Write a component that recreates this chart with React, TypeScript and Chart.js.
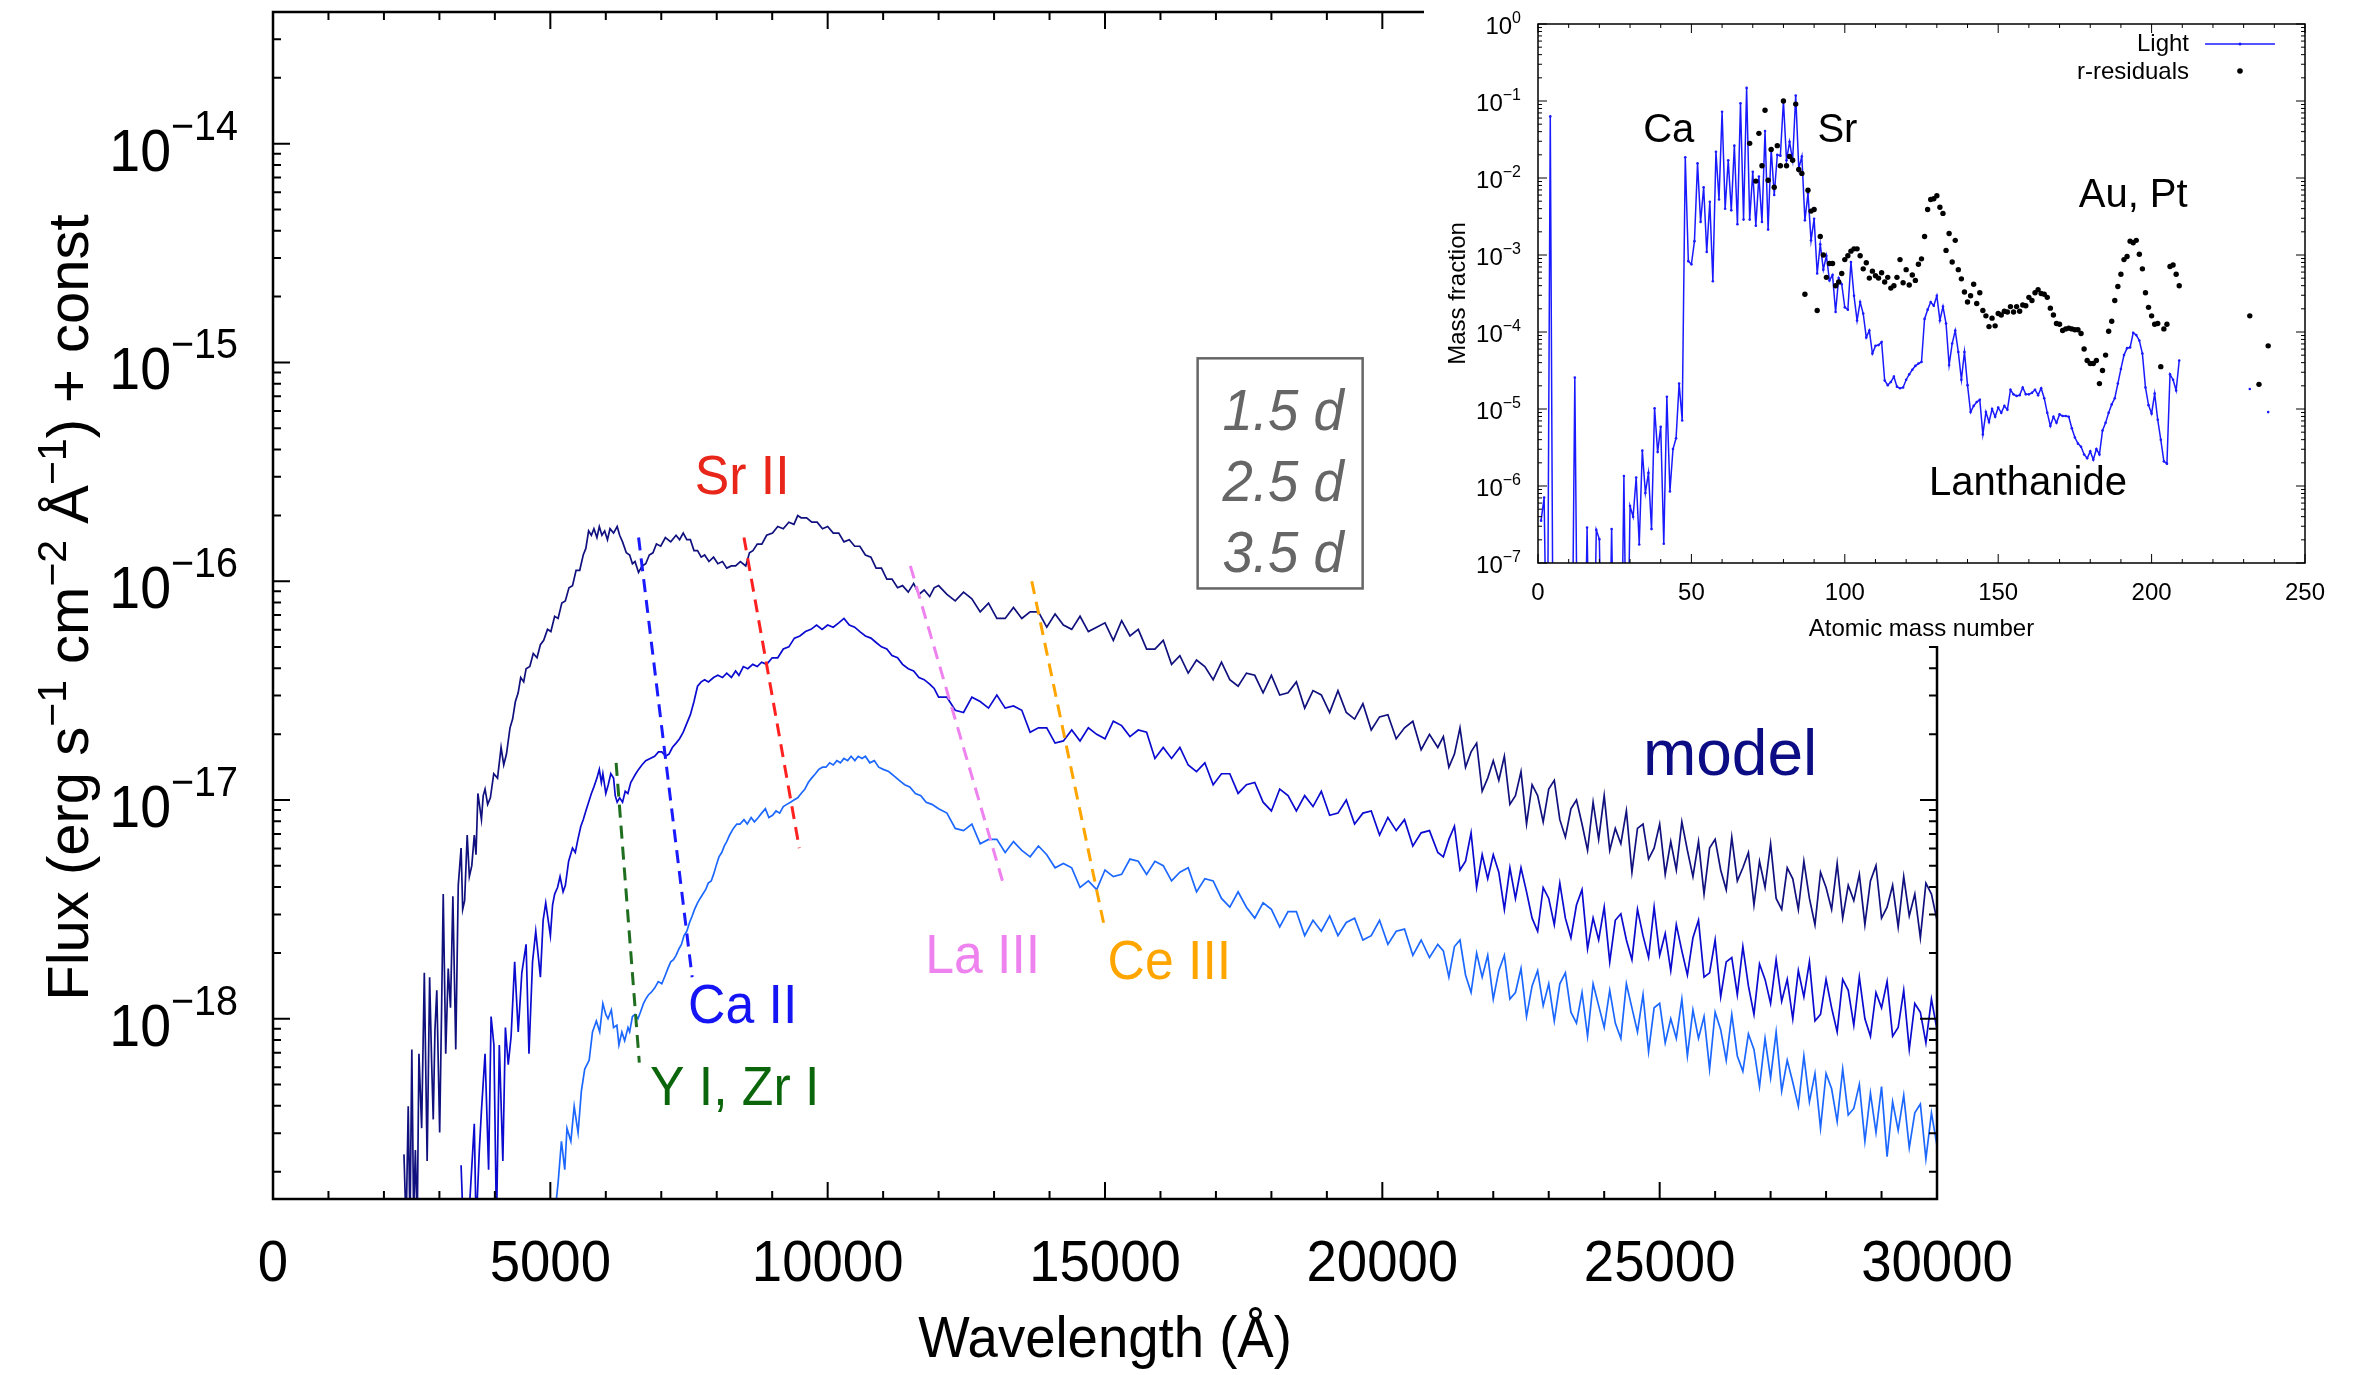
import React, { useEffect, useRef } from "react";
import { Chart, registerables } from "chart.js";

Chart.register(...registerables);

const FONT = '"Liberation Sans", Arial, Helvetica, sans-serif';
const PAGE_W = 2356;
const PAGE_H = 1375;
const INSET_LEFT = 1424;
const INSET_W = 932;
const INSET_H = 646;

/* ---------------- main panel: axes ---------------- */
const X_MIN = 0;
const X_MAX = 30000;
const Y_MIN = 1.5e-19;
const Y_MAX = 4e-14;
const xTickValues = [0, 5000, 10000, 15000, 20000, 25000, 30000];
const yTickExponents = [-14, -15, -16, -17, -18];

/* ---------------- main panel: spectra (log10 flux) ---------------- */
// 1.5 d, short-wavelength part
const wl15Head = [2361,2400,2438,2470,2503,2535,2567,2600,2631,2680,2728,2779,2824,2860,2889,2920,2953,3005,3040,3069,3114,3159,3200,3243,3295,3340,3391,3420,3455,3501,3540,3584,3629,3660,3694,3758,3790,3823,3870,3919,3980,4048,4112,4160,4209,4273,4320,4370,4420,4466,4520,4563,4630,4692,4760,4821,4880,4949,5010,5078,5140,5207,5270,5336,5400,5464,5530,5593,5640,5690,5740,5786,5840,5883,5930,5980,6030,6076,6140,6205,6250,6302,6370,6430,6480,6527,6590,6656,6720,6784,6850,6913,6990,7074,7170,7267,7330,7396,7460,7525,7590,7654,7720,7782,7860,7943,8020,8104,8180,8265,8340,8426,8523,8590,8652,8730,8813,8900,9006,9100,9199,9300,9392,9460,9521,9620,9714,9810,9907,10000,10101,10200,10294,10390,10487,10580,10680,10780,10873,10970,11066,11160,11260,11350,11453,11550,11646,11740,11839,11920];
const lf15Head = [-18.62,-18.95,-18.40,-18.95,-18.14,-18.90,-18.60,-18.95,-18.16,-18.50,-17.79,-18.65,-17.81,-18.20,-18.46,-18.05,-17.87,-18.52,-17.95,-17.43,-18.16,-17.77,-17.95,-17.44,-18.14,-17.39,-17.22,-17.50,-17.46,-17.16,-17.35,-17.30,-17.16,-17.25,-16.97,-17.09,-16.98,-16.95,-17.02,-16.99,-16.88,-16.90,-16.76,-16.84,-16.79,-16.67,-16.63,-16.55,-16.51,-16.44,-16.46,-16.40,-16.39,-16.33,-16.35,-16.29,-16.27,-16.22,-16.23,-16.16,-16.17,-16.10,-16.09,-16.03,-16.02,-15.95,-15.95,-15.88,-15.85,-15.77,-15.79,-15.76,-15.80,-15.75,-15.79,-15.77,-15.81,-15.76,-15.78,-15.75,-15.79,-15.82,-15.87,-15.88,-15.92,-15.91,-15.96,-15.93,-15.92,-15.88,-15.87,-15.83,-15.84,-15.80,-15.82,-15.79,-15.81,-15.78,-15.81,-15.81,-15.86,-15.86,-15.89,-15.88,-15.91,-15.89,-15.92,-15.91,-15.94,-15.93,-15.93,-15.91,-15.93,-15.87,-15.86,-15.83,-15.83,-15.79,-15.78,-15.75,-15.76,-15.73,-15.74,-15.70,-15.71,-15.71,-15.73,-15.73,-15.76,-15.75,-15.78,-15.78,-15.82,-15.81,-15.84,-15.84,-15.88,-15.89,-15.94,-15.94,-15.99,-15.99,-16.03,-16.02,-16.05,-16.01,-16.06,-16.04,-16.07,-16.03];

// 2.5 d, short-wavelength part
const wl25Head = [3391,3430,3468,3533,3629,3662,3720,3758,3823,3887,3932,3983,4029,4080,4144,4190,4241,4293,4357,4421,4486,4563,4615,4679,4737,4821,4870,4917,5001,5040,5078,5130,5175,5230,5271,5330,5400,5450,5497,5550,5593,5640,5690,5740,5786,5840,5883,5920,5947,6000,6044,6090,6140,6170,6205,6250,6302,6350,6398,6450,6495,6540,6591,6650,6720,6800,6881,6950,7010,7080,7139,7200,7267,7330,7396,7460,7525,7590,7654,7720,7782,7850,7943,8020,8104,8180,8265,8340,8400,8480,8560,8650,8730,8810,8900,9000,9100,9200,9300,9400,9500,9600,9700,9800,9900,10000,10100,10200,10294,10390,10487,10580,10680,10780,10873,10970,11066,11160,11260,11350,11453,11550,11646,11740,11839,11920];
const lf25Head = [-18.67,-18.95,-18.95,-18.90,-18.48,-18.95,-18.60,-18.42,-18.16,-18.69,-17.99,-18.12,-18.95,-18.12,-18.65,-18.04,-18.21,-18.08,-17.74,-18.06,-17.79,-17.66,-18.16,-17.74,-17.60,-17.81,-17.55,-17.47,-17.62,-17.48,-17.43,-17.40,-17.35,-17.42,-17.39,-17.28,-17.22,-17.24,-17.18,-17.12,-17.09,-17.05,-17.01,-16.97,-16.94,-16.90,-16.86,-16.92,-16.88,-16.97,-16.93,-16.88,-16.90,-16.98,-17.01,-16.99,-17.01,-16.96,-16.97,-16.92,-16.90,-16.88,-16.86,-16.84,-16.82,-16.81,-16.80,-16.78,-16.78,-16.80,-16.79,-16.76,-16.74,-16.72,-16.69,-16.65,-16.61,-16.55,-16.48,-16.46,-16.45,-16.46,-16.44,-16.43,-16.44,-16.42,-16.44,-16.41,-16.43,-16.39,-16.40,-16.38,-16.39,-16.37,-16.38,-16.35,-16.35,-16.31,-16.30,-16.26,-16.25,-16.23,-16.22,-16.20,-16.22,-16.20,-16.21,-16.19,-16.17,-16.20,-16.21,-16.23,-16.25,-16.26,-16.28,-16.30,-16.31,-16.34,-16.35,-16.38,-16.40,-16.41,-16.44,-16.45,-16.47,-16.49];

// 3.5 d, short-wavelength part
const wl35Head = [5078,5140,5200,5260,5300,5370,5430,5500,5560,5620,5700,5760,5830,5890,5947,6000,6040,6100,6140,6200,6237,6290,6340,6400,6430,6480,6527,6580,6624,6680,6720,6770,6817,6880,6946,7010,7074,7120,7171,7220,7267,7320,7364,7410,7461,7510,7557,7600,7654,7700,7750,7800,7847,7900,7943,7990,8040,8090,8137,8180,8233,8300,8362,8420,8491,8550,8620,8680,8749,8810,8877,8940,9006,9070,9135,9200,9264,9330,9392,9460,9521,9590,9650,9710,9779,9840,9907,9970,10036,10100,10165,10230,10294,10360,10423,10490,10551,10620,10680,10760,10841,10920,11002,11100,11195,11290,11389,11480,11582,11680,11775,11880];
const lf35Head = [-18.90,-18.75,-18.56,-18.69,-18.50,-18.56,-18.40,-18.52,-18.33,-18.23,-18.19,-18.06,-18.01,-18.06,-17.93,-17.98,-18.00,-17.96,-18.04,-18.03,-18.12,-18.06,-18.10,-18.04,-18.06,-17.99,-17.98,-18.00,-17.97,-17.93,-17.91,-17.89,-17.88,-17.86,-17.83,-17.84,-17.80,-17.77,-17.74,-17.73,-17.71,-17.68,-17.66,-17.62,-17.60,-17.56,-17.53,-17.50,-17.47,-17.45,-17.43,-17.41,-17.38,-17.37,-17.34,-17.30,-17.26,-17.24,-17.21,-17.19,-17.16,-17.13,-17.11,-17.11,-17.09,-17.11,-17.08,-17.10,-17.08,-17.06,-17.04,-17.08,-17.07,-17.05,-17.06,-17.03,-17.02,-17.01,-17.00,-16.99,-16.97,-16.95,-16.92,-16.90,-16.88,-16.86,-16.85,-16.85,-16.83,-16.84,-16.82,-16.83,-16.81,-16.82,-16.80,-16.82,-16.80,-16.81,-16.80,-16.83,-16.82,-16.85,-16.86,-16.87,-16.89,-16.91,-16.93,-16.94,-16.97,-16.98,-17.01,-17.02];

// shared long-wavelength sampling
const wlTail = [12000,12150,12300,12450,12600,12750,12900,13050,13200,13350,13500,13650,13800,13950,14100,14250,14400,14550,14700,14850,15000,15150,15300,15450,15600,15750,15900,16050,16200,16350,16500,16650,16800,16950,17100,17250,17400,17550,17700,17850,18000,18150,18300,18450,18600,18750,18900,19050,19200,19350,19500,19650,19800,19950,20100,20250,20400,20550,20700,20850,21000,
21100,21200,21300,21400,21500,21600,21700,21800,21900,22000,22100,22200,22300,22400,22500,22600,22700,22800,22900,23000,23100,23200,23300,23400,23500,23600,23700,23800,23900,24000,24100,24200,24300,24400,24500,24600,24700,24800,24900,25000,25100,25200,25300,25400,25500,25600,25700,25800,25900,26000,26100,26200,26300,26400,26500,26600,26700,26800,26900,27000,27100,27200,27300,27400,27500,27600,27700,27800,27900,28000,28100,28200,28300,28400,28500,28600,28700,28800,28900,29000,29100,29200,29300,29400,29500,29600,29700,29800,29900,30000];
const lf15Tail = [-16.02,-16.06,-16.09,-16.05,-16.08,-16.14,-16.10,-16.17,-16.17,-16.12,
-16.17,-16.14,-16.14,-16.21,-16.15,-16.20,-16.22,-16.16,-16.23,-16.21,
-16.19,-16.27,-16.18,-16.25,-16.22,-16.31,-16.31,-16.27,-16.38,-16.34,
-16.42,-16.36,-16.39,-16.45,-16.37,-16.45,-16.48,-16.42,-16.43,-16.51,
-16.43,-16.52,-16.51,-16.46,-16.58,-16.50,-16.52,-16.60,-16.50,-16.60,
-16.63,-16.56,-16.68,-16.62,-16.61,-16.72,-16.67,-16.64,-16.77,-16.70,-16.76,
-16.71,-16.85,-16.79,-16.67,-16.85,-16.78,-16.74,-16.96,-16.90,-16.82,
-16.91,-16.80,-17.02,-16.98,-16.87,-17.11,-16.93,-16.98,-17.10,-16.95,
-16.91,-17.09,-17.17,-17.04,-17.00,-17.11,-17.23,-17.01,-17.18,-16.98,
-17.23,-17.13,-17.20,-17.05,-17.33,-17.13,-17.11,-17.27,-17.22,-17.11,
-17.34,-17.19,-17.32,-17.10,-17.23,-17.35,-17.19,-17.43,-17.22,-17.18,
-17.32,-17.41,-17.17,-17.37,-17.31,-17.24,-17.48,-17.28,-17.40,-17.20,
-17.45,-17.50,-17.31,-17.36,-17.50,-17.28,-17.45,-17.57,-17.33,-17.40,
-17.50,-17.29,-17.54,-17.39,-17.46,-17.34,-17.57,-17.37,-17.30,-17.54,
-17.49,-17.39,-17.58,-17.35,-17.53,-17.43,-17.63,-17.38,-17.43,-17.55];
const lf25Tail = [-16.53,-16.53,-16.59,-16.60,-16.53,-16.55,-16.58,-16.52,-16.58,-16.57,
-16.59,-16.69,-16.67,-16.67,-16.74,-16.73,-16.68,-16.73,-16.67,-16.70,
-16.72,-16.64,-16.66,-16.71,-16.68,-16.69,-16.81,-16.76,-16.81,-16.76,
-16.84,-16.87,-16.83,-16.93,-16.88,-16.88,-16.97,-16.93,-16.92,-17.01,
-17.05,-16.95,-16.98,-17.05,-16.98,-17.03,-16.96,-17.07,-17.06,-17.00,
-17.11,-17.06,-17.05,-17.16,-17.08,-17.14,-17.09,-17.21,-17.15,-17.14,-17.24,
-17.26,-17.18,-17.12,-17.32,-17.28,-17.15,-17.40,-17.25,-17.36,-17.25,
-17.33,-17.50,-17.31,-17.45,-17.31,-17.42,-17.54,-17.60,-17.40,-17.45,
-17.57,-17.38,-17.54,-17.63,-17.48,-17.41,-17.68,-17.54,-17.64,-17.49,
-17.74,-17.55,-17.52,-17.64,-17.73,-17.50,-17.62,-17.72,-17.49,-17.71,
-17.61,-17.78,-17.57,-17.69,-17.80,-17.63,-17.55,-17.81,-17.79,-17.64,
-17.90,-17.74,-17.72,-17.89,-17.67,-17.85,-17.98,-17.75,-17.82,-17.93,
-17.73,-17.92,-17.82,-18.00,-17.78,-17.90,-17.74,-18.01,-17.98,-17.82,
-17.95,-18.06,-17.82,-17.87,-18.03,-17.81,-18.00,-18.08,-17.88,-17.95,
-17.83,-18.08,-18.04,-17.87,-18.14,-17.93,-17.97,-18.11,-17.91,-18.05];
const lf35Tail = [-17.04,-17.06,-17.13,-17.14,-17.11,-17.20,-17.18,-17.18,-17.24,-17.19,
-17.23,-17.26,-17.21,-17.25,-17.31,-17.29,-17.31,-17.40,-17.37,-17.41,
-17.32,-17.35,-17.34,-17.27,-17.28,-17.34,-17.28,-17.30,-17.37,-17.33,
-17.31,-17.42,-17.36,-17.37,-17.45,-17.49,-17.42,-17.49,-17.54,-17.47,
-17.50,-17.58,-17.51,-17.51,-17.62,-17.55,-17.60,-17.53,-17.62,-17.56,
-17.54,-17.64,-17.62,-17.55,-17.66,-17.60,-17.59,-17.71,-17.64,-17.72,-17.66,
-17.69,-17.81,-17.67,-17.64,-17.80,-17.88,-17.70,-17.81,-17.71,-17.91,
-17.78,-17.71,-17.91,-17.88,-17.77,-17.99,-17.85,-17.78,-17.94,-17.84,
-18.01,-17.84,-17.79,-17.97,-18.02,-17.88,-18.08,-17.84,-17.94,-18.04,
-17.87,-18.02,-18.09,-17.84,-17.95,-18.06,-17.89,-18.15,-17.95,-17.93,
-18.11,-18.00,-18.09,-17.91,-18.17,-17.96,-18.09,-17.99,-18.23,-17.97,
-18.05,-18.19,-17.98,-18.17,-18.24,-18.07,-18.14,-18.31,-18.09,-18.27,
-18.06,-18.33,-18.19,-18.29,-18.40,-18.17,-18.38,-18.25,-18.50,-18.25,
-18.32,-18.47,-18.23,-18.44,-18.41,-18.30,-18.56,-18.34,-18.52,-18.31,
-18.63,-18.38,-18.51,-18.35,-18.59,-18.43,-18.39,-18.64,-18.43,-18.58];

const epochLabels = ["1.5 d", "2.5 d", "3.5 d"];
const spectrumColors = ["#10107e", "#0a0ad0", "#1c68ff"];

/* line identifications: dashed guides and labels */
const featureNames = ["Ca II", "Sr II", "Y I, Zr I", "La III", "Ce III"];
const featureColors = ["#1414f5", "#e8261a", "#0b660b", "#ee82ee", "#ffa500"];
const dashColors = ["#1a1aff", "#ff2020", "#1f6e1f", "#ee82ee", "#ffa500"];
const featureX0 = [6591, 8491, 6186, 11491, 13680];
const featureLogY0 = [-15.80, -15.80, -16.83, -15.93, -16.00];
const featureX1 = [7557, 9489, 6604, 13152, 14981];
const featureLogY1 = [-17.81, -17.22, -18.20, -17.37, -17.57];
const featureLabelX = [8468, 8459, 8323, 12795, 16160];
const featureLabelLogY = [-18.018, -15.603, -18.394, -17.789, -17.817];

const modelLabel = "model";
const modelLabelX = 26270;
const modelLabelLogY = -16.884;
const epochBoxX = [16670, 19645];
const epochBoxLogY = [-14.981, -16.033];

/* ---------------- inset: abundances ---------------- */
const A_MIN = 0;
const A_MAX = 250;
const MF_MIN = 1e-7;
const MF_MAX = 1;
const aTickValues = [0, 50, 100, 150, 200, 250];
const mfTickExponents = [0, -1, -2, -3, -4, -5, -6, -7];

// "Light" mass fractions (log10), A = 1 ... 209 ; -9 = below the axis
const LIGHT_FIRST_A = 1;
const lightLog = [-6.45,-6.15,-9,-1.20,-9,-9,-9,-9,-9,-9,
-9,-4.59,-9,-9,-9,-6.54,-9,-9,-6.57,-6.69,
-9,-9,-9,-6.56,-9,-9,-9,-5.87,-9,-6.26,
-6.40,-5.89,-6.76,-5.54,-6.09,-5.83,-6.56,-4.99,-5.56,-5.23,
-6.75,-4.84,-6.07,-5.52,-5.38,-4.67,-5.15,-1.73,-3.08,-3.12,
-2.82,-1.81,-2.57,-2.12,-2.96,-2.31,-3.34,-1.66,-2.28,-1.14,
-2.40,-1.77,-2.42,-1.58,-2.60,-1.03,-2.54,-0.83,-2.54,-1.92,
-2.62,-1.98,-2.57,-1.39,-2.67,-1.62,-2.22,-1.70,-1.71,-1.00,
-1.77,-1.53,-1.77,-0.93,-1.88,-1.72,-2.55,-2.20,-2.81,-2.53,
-3.24,-2.86,-3.19,-3.01,-3.33,-3.26,-3.74,-3.30,-3.38,-3.68,
-3.71,-3.09,-3.53,-3.85,-3.61,-3.76,-4.07,-3.98,-4.28,-4.18,
-4.17,-4.13,-4.63,-4.69,-4.65,-4.58,-4.71,-4.73,-4.72,-4.62,
-4.55,-4.49,-4.44,-4.41,-4.39,-3.83,-3.71,-3.61,-3.66,-3.53,
-3.85,-3.67,-3.89,-4.43,-4.15,-3.98,-4.26,-4.62,-4.26,-4.69,
-5.04,-4.96,-4.91,-4.88,-5.33,-5.04,-5.17,-5.00,-5.10,-4.98,
-5.05,-4.96,-5.01,-4.75,-4.81,-4.83,-4.82,-4.72,-4.81,-4.81,
-4.79,-4.75,-4.82,-4.73,-4.86,-5.05,-5.22,-5.10,-5.18,-5.07,
-5.09,-5.09,-5.10,-5.25,-5.37,-5.45,-5.49,-5.59,-5.64,-5.55,
-5.66,-5.52,-5.59,-5.28,-5.18,-5.05,-4.94,-4.86,-4.67,-4.48,
-4.30,-4.21,-4.20,-4.01,-4.04,-4.11,-4.28,-4.72,-4.95,-5.06,
-4.80,-5.14,-5.40,-5.68,-5.71,-4.55,-4.62,-4.76,-4.37];
const lightExtraA = [232, 238];
const lightExtraLog = [-4.74, -5.04];

// r-process residuals (log10), A = 69 ... 209 ; null = no point
const RESID_FIRST_A = 69;
const residLog = [-1.55,null,-2.04,-1.42,-1.84,-1.12,-2.03,-1.63,-2.12,-1.58,
-1.84,-1.00,-1.84,-1.72,-1.77,-1.04,-1.89,-1.94,-3.51,-2.16,
-2.43,-2.41,-3.72,-2.76,-3.00,-3.29,-3.11,-3.11,-3.40,-3.35,
-3.24,-3.06,-3.01,-2.95,-2.92,-2.92,-3.01,-3.18,-3.10,-3.30,
-3.21,-3.27,-3.30,-3.23,-3.35,-3.29,-3.43,-3.40,-3.29,-3.06,
-3.36,-3.19,-3.39,-3.26,-3.33,-3.12,-3.05,-2.76,-2.41,-2.28,
-2.27,-2.23,-2.38,-2.46,-2.94,-2.72,-3.09,-2.81,-3.19,-3.31,
-3.48,-3.61,-3.53,-3.38,-3.63,-3.49,-3.72,-3.79,-3.93,-3.82,
-3.92,-3.76,-3.78,-3.73,-3.74,-3.67,-3.74,-3.67,-3.73,-3.65,
-3.66,-3.55,-3.59,-3.49,-3.45,-3.50,-3.51,-3.55,-3.69,-3.78,
-3.89,-3.90,-3.98,-3.96,-3.95,-3.96,-3.97,-3.97,-4.02,-4.22,
-4.37,-4.41,-4.41,-4.37,-4.67,-4.50,-4.30,-3.99,-3.86,-3.59,
-3.41,-3.25,-3.06,-3.02,-2.82,-2.84,-2.81,-2.99,-3.18,-3.49,
-3.68,-3.79,-3.90,-3.89,-4.45,-3.96,-3.90,-3.15,-3.13,-3.25,-3.40];
const residExtraA = [232, 235, 238];
const residExtraLog = [-3.79, -4.68, -4.18];

const insetSeriesNames = ["Light", "r-residuals"];
const insetLabels = ["Ca", "Sr", "Au, Pt", "Lanthanide"];
const insetLabelA = [42.6, 97.6, 194.0, 159.7];
const insetLabelLog = [-1.536, -1.536, -2.379, -6.118];

/* ---------------- helpers ---------------- */
function toPoints(xs: number[], logs: (number | null)[]) {
  const n = Math.min(xs.length, logs.length);
  const out: any[] = [];
  for (let i = 0; i < n; i++) {
    const l = logs[i];
    out.push({ x: xs[i], y: l === null ? null : Math.pow(10, l) });
  }
  return out;
}

function drawText(ctx: CanvasRenderingContext2D, s: string, x: number, y: number, size: number, o: any = {}) {
  const align = o.align || "left";
  const sx = o.sx || 1;
  ctx.save();
  ctx.font = `${o.italic ? "italic " : ""}${size}px ${FONT}`;
  ctx.fillStyle = o.color || "#000";
  ctx.textAlign = "left";
  ctx.textBaseline = "alphabetic";
  const w = ctx.measureText(s).width * sx;
  let x0 = x;
  if (align === "center") x0 = x - w / 2;
  else if (align === "right") x0 = x - w;
  ctx.translate(x0, y);
  ctx.scale(sx, 1);
  ctx.fillText(s, 0, 0);
  ctx.restore();
  return w;
}

function textWidth(ctx: CanvasRenderingContext2D, s: string, size: number, sx = 1) {
  ctx.save();
  ctx.font = `${size}px ${FONT}`;
  const w = ctx.measureText(s).width * sx;
  ctx.restore();
  return w;
}

function expLabel(e: number) {
  return e < 0 ? "\u2212" + String(-e) : String(e);
}

// power-of-ten label, right aligned at xr
function drawPow(ctx: CanvasRenderingContext2D, e: number, xr: number, y: number, big: number, small: number, baseDy: number, supDy: number, sx: number) {
  const sup = expLabel(e);
  const ws = textWidth(ctx, sup, small, sx);
  const wb = textWidth(ctx, "10", big, sx);
  drawText(ctx, "10", xr - ws - wb, y + baseDy, big, { sx });
  drawText(ctx, sup, xr - ws, y + supDy, small, { sx });
}

const whiteBg = {
  id: "whiteBg",
  beforeDraw(chart: any) {
    const ctx = chart.ctx;
    ctx.save();
    ctx.fillStyle = "#fff";
    ctx.fillRect(0, 0, chart.width, chart.height);
    ctx.restore();
  },
};

const SX = 0.94;

const mainDecor = {
  id: "mainDecor",
  afterDraw(chart: any) {
    const { ctx, chartArea: a } = chart;
    const xs = chart.scales.x;
    const ys = chart.scales.y;
    ctx.save();
    // ticks (inward, mirrored)
    ctx.strokeStyle = "#000";
    ctx.lineWidth = 2;
    ctx.beginPath();
    for (let v = X_MIN; v <= X_MAX; v += 1000) {
      const px = xs.getPixelForValue(v);
      const len = v % 5000 === 0 ? 17 : 8;
      ctx.moveTo(px, a.bottom);
      ctx.lineTo(px, a.bottom - len);
      ctx.moveTo(px, a.top);
      ctx.lineTo(px, a.top + len);
    }
    for (let e = -20; e <= -13; e++) {
      for (let m = 1; m <= 9; m++) {
        const v = m * Math.pow(10, e);
        if (v < Y_MIN || v > Y_MAX) continue;
        const py = ys.getPixelForValue(v);
        const len = m === 1 ? 17 : 8;
        ctx.moveTo(a.left, py);
        ctx.lineTo(a.left + len, py);
        ctx.moveTo(a.right, py);
        ctx.lineTo(a.right - len, py);
      }
    }
    ctx.stroke();
    ctx.lineWidth = 2.5;
    ctx.strokeRect(a.left, a.top, a.right - a.left, a.bottom - a.top);

    // tick labels
    for (const v of xTickValues) {
      drawText(ctx, String(v), xs.getPixelForValue(v), a.bottom + 82, 58, { align: "center", sx: SX });
    }
    for (const e of yTickExponents) {
      const py = ys.getPixelForValue(Math.pow(10, e));
      drawPow(ctx, e, a.left - 35, py, 59, 42, 27, -4, SX);
    }

    // axis titles
    drawText(ctx, "Wavelength (\u00c5)", (a.left + a.right) / 2, 1357, 58, { align: "center", sx: SX });
    const segs: [string, boolean][] = [
      ["Flux (erg s", false], ["\u22121", true], [" cm", false], ["\u22122", true],
      [" \u00c5", false], ["\u22121", true], [") + const", false],
    ];
    const TSX = 1.0;
    let total = 0;
    for (const [s, sup] of segs) total += textWidth(ctx, s, sup ? 41 : 58, TSX);
    ctx.save();
    ctx.translate(88, (a.top + a.bottom) / 2 + 2);
    ctx.rotate(-Math.PI / 2);
    let cx = -total / 2;
    for (const [s, sup] of segs) {
      cx += drawText(ctx, s, cx, sup ? -22 : 0, sup ? 41 : 58, { sx: TSX });
    }
    ctx.restore();

    // line identifications
    for (let i = 0; i < featureNames.length; i++) {
      drawText(ctx, featureNames[i], xs.getPixelForValue(featureLabelX[i]),
        ys.getPixelForValue(Math.pow(10, featureLabelLogY[i])), 55,
        { align: "center", color: featureColors[i], sx: SX });
    }
    drawText(ctx, modelLabel, xs.getPixelForValue(modelLabelX),
      ys.getPixelForValue(Math.pow(10, modelLabelLogY)), 64, { align: "center", color: "#0c0c84" });

    // epoch box
    const bx0 = xs.getPixelForValue(epochBoxX[0]);
    const bx1 = xs.getPixelForValue(epochBoxX[1]);
    const by0 = ys.getPixelForValue(Math.pow(10, epochBoxLogY[0]));
    const by1 = ys.getPixelForValue(Math.pow(10, epochBoxLogY[1]));
    ctx.strokeStyle = "#666";
    ctx.lineWidth = 2.5;
    ctx.strokeRect(bx0, by0, bx1 - bx0, by1 - by0);
    const bcx = (bx0 + bx1) / 2 + 3;
    const step = (by1 - by0) / 3.2;
    for (let i = 0; i < epochLabels.length; i++) {
      drawText(ctx, epochLabels[i], bcx, by0 + 72 + i * step * 0.985, 58,
        { align: "center", italic: true, color: "#666", sx: SX });
    }
    ctx.restore();
  },
};

const insetDecor = {
  id: "insetDecor",
  afterDraw(chart: any) {
    const { ctx, chartArea: a } = chart;
    const xs = chart.scales.x;
    const ys = chart.scales.y;
    ctx.save();
    ctx.strokeStyle = "#000";
    ctx.lineWidth = 1;
    ctx.beginPath();
    for (let v = A_MIN; v <= A_MAX; v += 10) {
      const px = xs.getPixelForValue(v);
      const len = v % 50 === 0 ? 9 : 4;
      ctx.moveTo(px, a.bottom);
      ctx.lineTo(px, a.bottom - len);
      ctx.moveTo(px, a.top);
      ctx.lineTo(px, a.top + len);
    }
    for (let e = -7; e <= 0; e++) {
      for (let m = 1; m <= 9; m++) {
        const v = m * Math.pow(10, e);
        if (v < MF_MIN * 0.999 || v > MF_MAX * 1.001) continue;
        const py = ys.getPixelForValue(v);
        const len = m === 1 ? 9 : 4;
        ctx.moveTo(a.left, py);
        ctx.lineTo(a.left + len, py);
        ctx.moveTo(a.right, py);
        ctx.lineTo(a.right - len, py);
      }
    }
    ctx.stroke();
    ctx.lineWidth = 1.5;
    ctx.strokeRect(a.left, a.top, a.right - a.left, a.bottom - a.top);

    for (const v of aTickValues) {
      drawText(ctx, String(v), xs.getPixelForValue(v), a.bottom + 37, 24, { align: "center" });
    }
    for (const e of mfTickExponents) {
      const py = ys.getPixelForValue(Math.pow(10, e));
      drawPow(ctx, e, a.left - 17, py, 24, 16, 10, -1, 1);
    }
    drawText(ctx, "Atomic mass number", (a.left + a.right) / 2, a.bottom + 73, 24, { align: "center" });
    ctx.save();
    ctx.translate(41, (a.top + a.bottom) / 2);
    ctx.rotate(-Math.PI / 2);
    drawText(ctx, "Mass fraction", 0, 0, 24, { align: "center" });
    ctx.restore();

    // legend
    const lx = a.right - 116;
    drawText(ctx, insetSeriesNames[0], lx, a.top + 27, 24, { align: "right" });
    drawText(ctx, insetSeriesNames[1], lx, a.top + 55, 24, { align: "right" });
    ctx.strokeStyle = "#1a1aff";
    ctx.lineWidth = 1.5;
    ctx.beginPath();
    ctx.moveTo(lx + 16, a.top + 20);
    ctx.lineTo(lx + 86, a.top + 20);
    ctx.stroke();
    ctx.fillStyle = "#1a1aff";
    ctx.beginPath();
    ctx.arc(lx + 51, a.top + 20, 1.5, 0, Math.PI * 2);
    ctx.fill();
    ctx.fillStyle = "#000";
    ctx.beginPath();
    ctx.arc(lx + 51, a.top + 47, 2.8, 0, Math.PI * 2);
    ctx.fill();

    for (let i = 0; i < insetLabels.length; i++) {
      drawText(ctx, insetLabels[i], xs.getPixelForValue(insetLabelA[i]),
        ys.getPixelForValue(Math.pow(10, insetLabelLog[i])), 40, { align: "center" });
    }
    ctx.restore();
  },
};

export default function App() {
  const mainRef = useRef<HTMLCanvasElement>(null);
  const insetRef = useRef<HTMLCanvasElement>(null);

  useEffect(() => {
    const spectra = [
      toPoints(wl15Head.concat(wlTail), (lf15Head as (number | null)[]).concat(lf15Tail)),
      toPoints(wl25Head.concat(wlTail), (lf25Head as (number | null)[]).concat(lf25Tail)),
      toPoints(wl35Head.concat(wlTail), (lf35Head as (number | null)[]).concat(lf35Tail)),
    ];
    const dashSets = featureNames.map((name, i) => ({
      label: name,
      data: toPoints([featureX0[i], featureX1[i]], [featureLogY0[i], featureLogY1[i]]),
      borderColor: dashColors[i],
      borderWidth: 3,
      borderDash: [13, 8],
      pointRadius: 0,
      fill: false,
    }));
    const specSets = spectra.map((pts, i) => ({
      label: epochLabels[i],
      data: pts,
      borderColor: spectrumColors[i],
      borderWidth: 1.7,
      pointRadius: 0,
      fill: false,
      spanGaps: false,
    }));

    const main = new Chart(mainRef.current as HTMLCanvasElement, {
      type: "line",
      data: { datasets: [...dashSets, ...specSets] as any },
      options: {
        animation: false,
        responsive: false,
        devicePixelRatio: 1,
        events: [],
        layout: { padding: { left: 273, top: 12, right: PAGE_W - 1937, bottom: PAGE_H - 1199 } },
        elements: { line: { tension: 0 } },
        plugins: { legend: { display: false }, tooltip: { enabled: false } },
        scales: {
          x: { type: "linear", min: X_MIN, max: X_MAX, display: false },
          y: { type: "logarithmic", min: Y_MIN, max: Y_MAX, display: false },
        },
      } as any,
      plugins: [whiteBg, mainDecor],
    });

    const lightPts = toPoints(lightLog.map((_, i) => LIGHT_FIRST_A + i), lightLog);
    lightPts.push({ x: 220, y: null });
    const lightExtra = toPoints(lightExtraA, lightExtraLog);
    lightPts.push(lightExtra[0]);
    lightPts.push({ x: 235, y: null });
    lightPts.push(lightExtra[1]);
    const residPts = toPoints(residLog.map((_, i) => RESID_FIRST_A + i), residLog)
      .filter((p) => p.y !== null)
      .concat(toPoints(residExtraA, residExtraLog));

    const inset = new Chart(insetRef.current as HTMLCanvasElement, {
      type: "line",
      data: {
        datasets: [
          {
            label: insetSeriesNames[1],
            data: residPts,
            showLine: false,
            pointRadius: 2.7,
            pointBorderWidth: 0,
            pointBackgroundColor: "#000",
            borderColor: "#000",
          },
          {
            label: insetSeriesNames[0],
            data: lightPts,
            borderColor: "#1a1aff",
            borderWidth: 1.5,
            pointRadius: 1.3,
            pointBorderWidth: 0,
            pointBackgroundColor: "#1a1aff",
            spanGaps: false,
            fill: false,
          },
        ] as any,
      },
      options: {
        animation: false,
        responsive: false,
        devicePixelRatio: 1,
        events: [],
        layout: { padding: { left: 114, top: 24, right: INSET_W - 881, bottom: INSET_H - 563 } },
        elements: { line: { tension: 0 } },
        plugins: { legend: { display: false }, tooltip: { enabled: false } },
        scales: {
          x: { type: "linear", min: A_MIN, max: A_MAX, display: false },
          y: { type: "logarithmic", min: MF_MIN, max: MF_MAX, display: false },
        },
      } as any,
      plugins: [whiteBg, insetDecor],
    });

    return () => {
      main.destroy();
      inset.destroy();
    };
  }, []);

  return (
    <div style={{ position: "absolute", left: 0, top: 0, width: PAGE_W, height: PAGE_H, background: "#fff" }}>
      <canvas ref={mainRef} width={PAGE_W} height={PAGE_H} style={{ position: "absolute", left: 0, top: 0 }} />
      <canvas ref={insetRef} width={INSET_W} height={INSET_H} style={{ position: "absolute", left: INSET_LEFT, top: 0 }} />
    </div>
  );
}
